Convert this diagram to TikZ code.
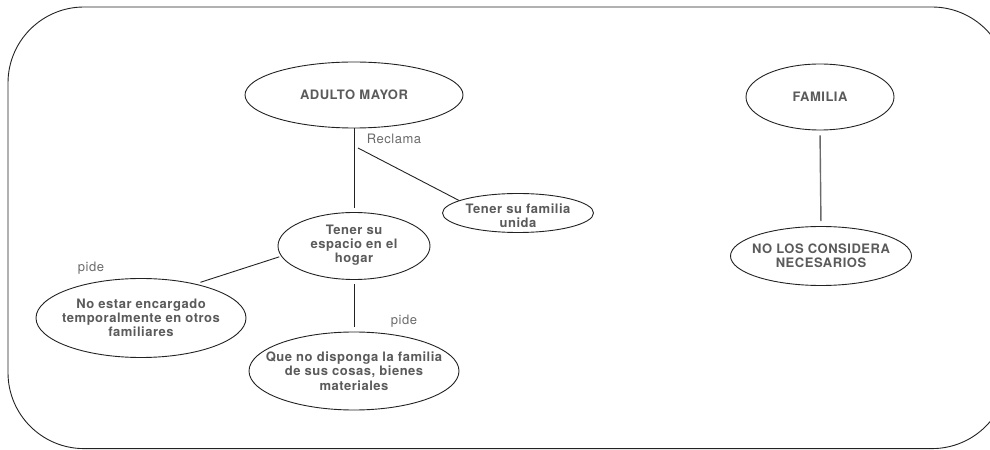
\documentclass[tikz,border=0pt]{standalone}
\usepackage{fontspec}
\setmainfont{TeX Gyre Heros}[LetterSpace=4]
\usetikzlibrary{shapes.geometric}
\definecolor{inkgray}{HTML}{5A5A5A}
\definecolor{labelgray}{HTML}{6A6A6A}
\definecolor{edgegray}{HTML}{222222}
\tikzset{
  ovalbox/.style={ellipse, draw=edgegray, line width=0.9bp, inner sep=0pt},
  ovaltext/.style={align=center, text=inkgray, inner sep=0pt,
    font=\fontsize{13bp}{14.3bp}\selectfont\bfseries},
  linklabel/.style={text=labelgray, inner sep=0pt,
    font=\fontsize{13bp}{14.3bp}\selectfont},
  link/.style={draw=edgegray, line width=0.9bp},
  softlink/.style={draw=labelgray, line width=1.4bp},
}
\begin{document}
\begin{tikzpicture}[x=1bp, y=-1bp]
  \useasboundingbox (0,0) rectangle (990,450);
  % outer frame, its right side runs past the page edge
  \begin{scope}
    \clip (0,0) rectangle (990,450);
    \draw[edgegray, line width=0.9bp, rounded corners=76bp] (8,7) rectangle (1008,448.6);
  \end{scope}

  % ovals
  \node[ovalbox, minimum width=218bp, minimum height=66bp] (adulto) at (354,95) {};
  \node[ovaltext] at (adulto) {ADULTO MAYOR};

  \node[ovalbox, minimum width=148bp, minimum height=66bp] (familia) at (820,97) {};
  \node[ovaltext] at (familia) {FAMILIA};

  \node[ovalbox, minimum width=181bp, minimum height=59bp] (necesarios) at (821,256) {};
  \node[ovaltext] at (necesarios) {NO LOS CONSIDERA\\NECESARIOS};

  \node[ovalbox, minimum width=152bp, minimum height=67bp] (espacio) at (354,246) {};
  \node[ovaltext] at ([yshift=1bp]espacio.center) {Tener su\\espacio en el\\hogar};

  \node[ovalbox, minimum width=151bp, minimum height=39bp] (unida) at (518,213) {};
  \node[ovaltext] at ([yshift=-3bp]unida.center) {Tener su familia\\unida};

  \node[ovalbox, minimum width=210bp, minimum height=79bp] (noestar) at (141,318) {};
  \node[ovaltext] at (noestar) {No estar encargado\\temporalmente en otros\\familiares};

  \node[ovalbox, minimum width=210bp, minimum height=78bp] (queno) at (354,371) {};
  \node[ovaltext] at (queno) {Que no disponga la familia\\de sus cosas, bienes\\materiales};

  % connectors
  \coordinate (reclamaStart) at (358,148);
  \draw[link] (adulto.south) -- (espacio.north) [shorten >=4bp];
  \draw[link] (reclamaStart) -- (unida.168);
  \draw[link, shorten <=2bp, shorten >=5bp] (espacio.188) -- (noestar.32);
  \draw[link, shorten <=4bp, shorten >=5bp] (espacio.south) -- (queno.north);
  \draw[softlink, shorten <=5bp, shorten >=5bp] (familia.south) -- (necesarios.north);

  % connector labels
  \node[linklabel] (lblReclama) at (394,139) {Reclama};
  \node[linklabel] (lblPideA) at (91,268) {pide};
  \node[linklabel] (lblPideB) at (404,321) {pide};
\end{tikzpicture}
\end{document}
